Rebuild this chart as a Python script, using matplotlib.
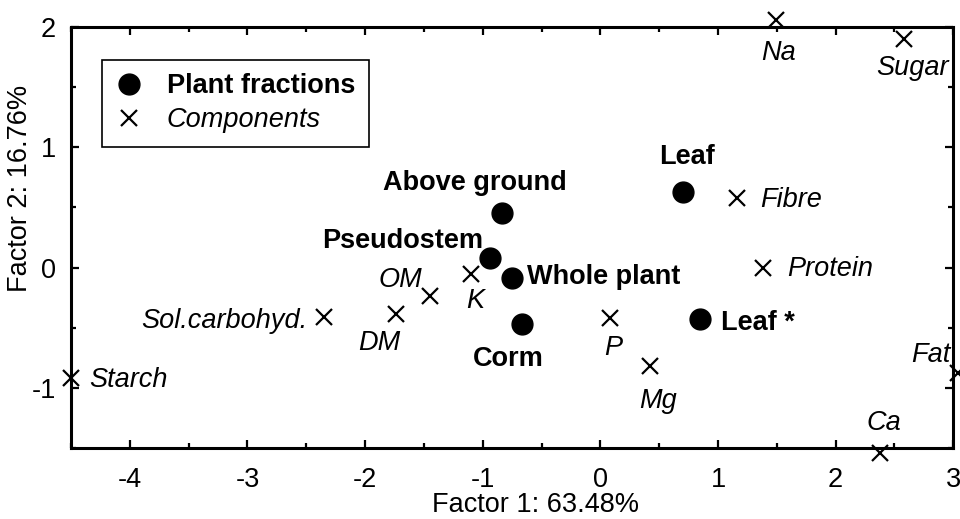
import matplotlib
matplotlib.use("Agg")
import matplotlib.pyplot as plt
from matplotlib.ticker import MultipleLocator

plt.rcParams['font.family'] = ['Liberation Sans', 'DejaVu Sans']
plt.rcParams['font.size'] = 19.5
plt.rcParams['axes.unicode_minus'] = False

# plant fractions (factor 1, factor 2)
frac_names = ['Leaf', 'Above ground', 'Pseudostem', 'Whole plant', 'Corm', 'Leaf *']
frac_x = [0.70, -0.84, -0.94, -0.755, -0.67, 0.845]
frac_y = [0.63, 0.45, 0.08, -0.09, -0.47, -0.425]

# components
comp_names = ['Na', 'Sugar', 'Fibre', 'Protein', 'OM', 'K', 'Sol.carbohyd.', 'DM',
              'Starch', 'P', 'Mg', 'Ca', 'Fat']
comp_x = [1.49, 2.58, 1.16, 1.38, -1.45, -1.10, -2.35, -1.74, -4.5, 0.08, 0.42, 2.38, 3.04]
comp_y = [2.06, 1.90, 0.575, 0.0, -0.24, -0.05, -0.41, -0.39, -0.92, -0.42, -0.82, -1.54, -0.88]

# label placement: offset in pixels and alignment
frac_lab = {
    'Leaf': ((4, 35), 'center'),
    'Above ground': ((-27, 30), 'center'),
    'Pseudostem': ((-7, 17), 'right'),
    'Whole plant': ((15, 1), 'left'),
    'Corm': ((-13, -35), 'center'),
    'Leaf *': ((21, -4), 'left'),
}
comp_lab = {
    'Na': ((3, -33), 'center'),
    'Sugar': ((9, -29), 'center'),
    'Fibre': ((23, -2), 'left'),
    'Protein': ((24, -1), 'left'),
    'OM': ((-8, 16), 'right'),
    'K': ((4, -27), 'center'),
    'Sol.carbohyd.': ((-17, -4), 'right'),
    'DM': ((-16, -29), 'center'),
    'Starch': ((18, -2), 'left'),
    'P': ((3, -30), 'center'),
    'Mg': ((8, -35), 'center'),
    'Ca': ((4, 30), 'center'),
    'Fat': ((-8, 18), 'right'),
}

fig = plt.figure(figsize=(9.6, 5.19), dpi=100)
ax = fig.add_axes([0.074, 0.137, 0.919, 0.811])

ax.plot(frac_x, frac_y, 'o', color='black', markersize=15, clip_on=False,
        label='Plant fractions', zorder=3)
ax.plot(comp_x, comp_y, 'x', color='black', markersize=12, markeredgewidth=1.6,
        clip_on=False, label='Components', zorder=3)

for n, x, y in zip(frac_names, frac_x, frac_y):
    off, ha = frac_lab[n]
    ax.annotate(n, (x, y), xytext=off, textcoords='offset pixels', ha=ha, va='center',
                fontweight='bold', annotation_clip=False)
for n, x, y in zip(comp_names, comp_x, comp_y):
    off, ha = comp_lab[n]
    ax.annotate(n, (x, y), xytext=off, textcoords='offset pixels', ha=ha, va='center',
                fontstyle='italic', annotation_clip=False)

ax.set_xlim(-4.5, 3)
ax.set_ylim(-1.5, 2)
ax.xaxis.set_major_locator(MultipleLocator(1))
ax.xaxis.set_minor_locator(MultipleLocator(0.5))
ax.yaxis.set_major_locator(MultipleLocator(1))
ax.yaxis.set_minor_locator(MultipleLocator(0.5))
ax.tick_params(which='both', direction='in', top=True, right=True, width=1.6)
ax.tick_params(which='major', length=6)
ax.tick_params(which='minor', length=3.5)
ax.tick_params(axis='x', pad=14)
ax.tick_params(axis='y', pad=11)
for s in ax.spines.values():
    s.set_linewidth(2.2)

ax.set_xlabel('Factor 1: 63.48%')
ax.set_ylabel('Factor 2: 16.76%')
ax.xaxis.set_label_coords(0.526, -0.105)
ax.yaxis.set_label_coords(-0.043, 0.617)

leg = ax.legend(loc='upper left', bbox_to_anchor=(0.035, 0.922), borderaxespad=0,
                fancybox=False, edgecolor='black', framealpha=1, handlelength=1,
                handletextpad=0.9, borderpad=0.5, labelspacing=0.3, numpoints=1)
leg.get_frame().set_linewidth(1.2)
leg.get_texts()[0].set_fontweight('bold')
leg.get_texts()[1].set_fontstyle('italic')

fig.savefig('out.png', dpi=100)
